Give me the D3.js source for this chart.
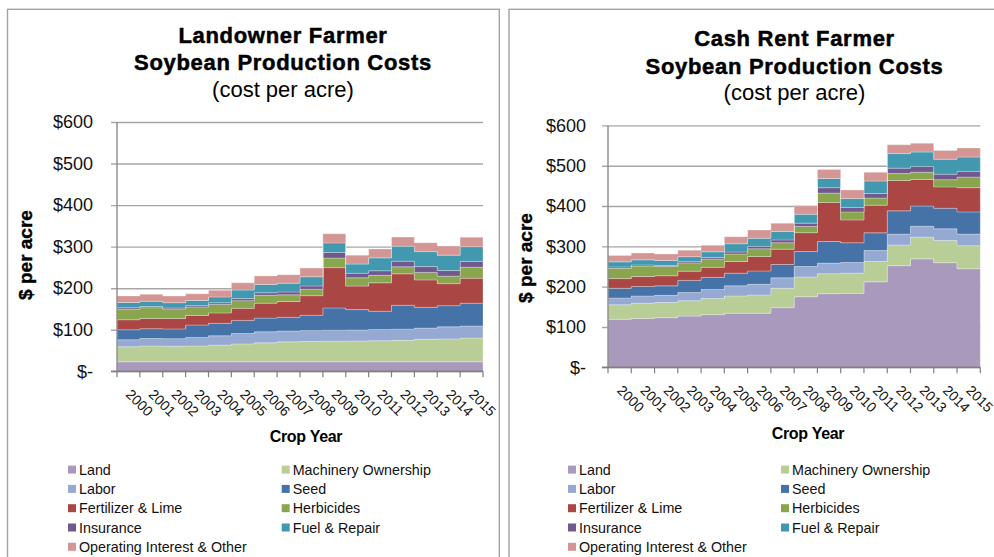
<!DOCTYPE html>
<html>
<head>
<meta charset="utf-8">
<script src="https://cdn.jsdelivr.net/npm/d3@7/dist/d3.min.js"></script>
<style>
  body { margin: 0; background: #fff; }
  svg { display: block; }
  text { font-family: "Liberation Sans", Arial, Helvetica, sans-serif; }
</style>
</head>
<body>
<svg id="chart" width="994" height="557"></svg>
<script>
// crop years and cost series, $ per acre
const years = ["2000","2001","2002","2003","2004","2005","2006","2007","2008","2009","2010","2011","2012","2013","2014","2015"]
const seriesNames = ["Land","Machinery Ownership","Labor","Seed","Fertilizer & Lime","Herbicides","Insurance","Fuel & Repair","Operating Interest & Other"]
const seriesColors = ["#a99abd","#b9cd96","#95a9d2","#4572a7","#aa4643","#89a54e","#71588f","#4198af","#d49694"]

const landOwned = [23, 23, 23, 23, 23, 23, 23, 23, 23, 23, 23, 23, 23, 23, 23, 23]
const landRented = [119, 121, 123, 127, 130.5, 134, 134, 148, 175, 182.5, 183.5, 212, 252, 269, 259.5, 244.5]
const machinery = [36, 38, 37.5, 38, 40, 43, 45.5, 48, 49, 49.5, 50, 50.5, 51.5, 54, 55, 57]
const labor = [17, 18, 18, 20.5, 22.5, 25, 26.5, 26, 26, 26.5, 26.5, 27, 27, 27, 29, 29]
const seed = [24, 23.5, 23.5, 30, 30, 31.5, 33, 33, 37, 53.5, 49, 44, 57.5, 50, 51, 55]
const fertilizer = [24, 24.5, 25, 23, 25, 29, 36, 38, 47, 97, 56.5, 68.5, 75.5, 66, 53, 60]
const herbicides = [25.5, 26, 23, 20.5, 20.5, 18.5, 19, 16, 15.5, 23, 20, 18, 17, 18, 18, 26.5]
const insurance = [3.5, 3, 2.5, 3, 4, 5, 6, 7, 8, 13.5, 11, 11, 13.5, 14, 13.5, 14]
const fuel = [12.5, 12.5, 12.5, 12.5, 14, 20.5, 20, 21, 22, 23, 22, 31, 36, 36, 37, 35.5]
const operating = [16, 17, 16, 16, 16, 17.5, 20.5, 20.5, 21, 22, 21.5, 21.5, 22, 21.5, 22, 22.5]

const yTicks = [0, 100, 200, 300, 400, 500, 600]

const svg = d3.select("#chart")

function buildRows(land) {
  const cols = [land, machinery, labor, seed, fertilizer, herbicides, insurance, fuel, operating]
  return years.map((yr, i) => {
    const row = { year: yr }
    seriesNames.forEach((name, k) => { row[name] = cols[k][i] })
    return row
  })
}

function drawChart(cfg) {
  const g = svg.append("g")
  const rows = buildRows(cfg.land)

  // panel frame
  g.append("rect")
    .attr("x", cfg.frame[0]).attr("y", cfg.frame[1])
    .attr("width", cfg.frame[2]).attr("height", cfg.frame[3])
    .attr("fill", "none").attr("stroke", "#a3a3a3").attr("stroke-width", 1.4)

  // titles
  const title = g.append("text")
    .attr("text-anchor", "middle")
    .style("font-weight", "bold").style("font-size", "22px")
    .style("letter-spacing", "0.7px")
    .attr("stroke", "#000").attr("stroke-width", 0.5)
  cfg.title.forEach((line, i) => {
    title.append("tspan").attr("x", cfg.titleX).attr("y", cfg.titleY[i]).text(line)
  })
  g.append("text")
    .attr("x", cfg.titleX).attr("y", cfg.titleY[2])
    .attr("text-anchor", "middle").style("font-size", "22px")
    .text("(cost per acre)")

  const x = d3.scaleBand().domain(years).range([cfg.left, cfg.right]).padding(0)
  const y = d3.scaleLinear().domain([0, 600]).range([cfg.bottom, cfg.top])
  const bw = x.bandwidth()

  // grid + y axis
  const yAxis = g.append("g")
    .attr("transform", `translate(${cfg.left},0)`)
    .call(d3.axisLeft(y).tickValues(yTicks).tickSizeInner(-(cfg.right - cfg.left)).tickSizeOuter(0)
      .tickPadding(cfg.tickPad).tickFormat(d => d === 0 ? "$-" : "$" + d))
  yAxis.select(".domain").remove()
  yAxis.selectAll(".tick line")
    .attr("x1", -6)
    .attr("stroke", "#a6a6a6").attr("stroke-width", 1.4)
  yAxis.selectAll(".tick text")
    .style("font-size", "18px").attr("fill", "#111")
    .style("font-family", '"Liberation Sans", Arial, sans-serif')

  // stacked step areas
  const stack = d3.stack().keys(seriesNames)(rows)
  const area = d3.area()
    .x(d => d.x).y0(d => y(d.y0)).y1(d => y(d.y1))
  stack.forEach((layer, k) => {
    const pts = []
    layer.forEach((d, i) => {
      const x0 = x(years[i])
      pts.push({ x: x0, y0: d[0], y1: d[1] })
      pts.push({ x: x0 + bw, y0: d[0], y1: d[1] })
    })
    g.append("path")
      .attr("d", area(pts))
      .attr("fill", seriesColors[k])
      .attr("stroke", "#fff").attr("stroke-opacity", 0.35).attr("stroke-width", 0.8)
  })

  // y axis line
  g.append("line")
    .attr("x1", cfg.left).attr("x2", cfg.left)
    .attr("y1", cfg.top).attr("y2", cfg.bottom)
    .attr("stroke", "#8c8c8c").attr("stroke-width", 1.4)

  // x axis line and boundary ticks
  g.append("line")
    .attr("x1", cfg.left - 6).attr("x2", cfg.right)
    .attr("y1", cfg.bottom).attr("y2", cfg.bottom)
    .attr("stroke", "#7f7f7f").attr("stroke-width", 1.6)
  const edges = years.map(yr => x(yr)).concat([cfg.right])
  g.selectAll(null).data(edges).enter().append("line")
    .attr("x1", d => d).attr("x2", d => d)
    .attr("y1", cfg.bottom).attr("y2", cfg.bottom + 6)
    .attr("stroke", "#7f7f7f").attr("stroke-width", 1.2)

  // rotated year labels
  g.selectAll(null).data(years).enter().append("text")
    .attr("transform", d => `translate(${x(d) + bw / 2 - 3.5},${cfg.bottom + 24}) rotate(45)`)
    .style("font-size", "14px").attr("fill", "#111")
    .text(d => d)

  // axis titles
  g.append("text")
    .attr("transform", `translate(${cfg.yTitle[0]},${cfg.yTitle[1]}) rotate(-90)`)
    .attr("text-anchor", "middle").attr("dy", "0.35em")
    .style("font-weight", "bold").style("font-size", "19px")
    .attr("stroke", "#000").attr("stroke-width", 0.4)
    .text("$ per acre")
  g.append("text")
    .attr("x", cfg.xTitle[0]).attr("y", cfg.xTitle[1])
    .attr("text-anchor", "middle")
    .style("font-weight", "bold").style("font-size", "16px")
    .style("letter-spacing", "-0.3px")
    .text("Crop Year")

  // legend, two columns row by row
  seriesNames.forEach((name, k) => {
    const col = k % 2, row = Math.floor(k / 2)
    const lx = col === 0 ? cfg.legendX[0] : cfg.legendX[1]
    const ly = cfg.legendY + row * 19.3
    g.append("rect")
      .attr("x", lx).attr("y", ly - 4).attr("width", 8).attr("height", 8)
      .attr("fill", seriesColors[k])
    g.append("text")
      .attr("x", lx + 11).attr("y", ly).attr("dy", "0.36em")
      .style("font-size", "14.3px").attr("fill", "#111")
      .text(name)
  })
}

drawChart({
  land: landOwned,
  frame: [7.5, 9.3, 491.8, 600],
  title: ["Landowner Farmer", "Soybean Production Costs"],
  titleX: 283, titleY: [42.6, 70.3, 97],
  left: 117, right: 483, top: 122, bottom: 371.3, tickPad: 24,
  yTitle: [25, 255], xTitle: [306, 442],
  legendX: [68, 281.7], legendY: 469.6
})

drawChart({
  land: landRented,
  frame: [509, 9.3, 600, 600],
  title: ["Cash Rent Farmer", "Soybean Production Costs"],
  titleX: 794.5, titleY: [45.5, 73.5, 100],
  left: 608, right: 980.3, top: 125.4, bottom: 367.3, tickPad: 22,
  yTitle: [525, 258], xTitle: [808, 438.7],
  legendX: [568, 781], legendY: 469.6
})
</script>
</body>
</html>
